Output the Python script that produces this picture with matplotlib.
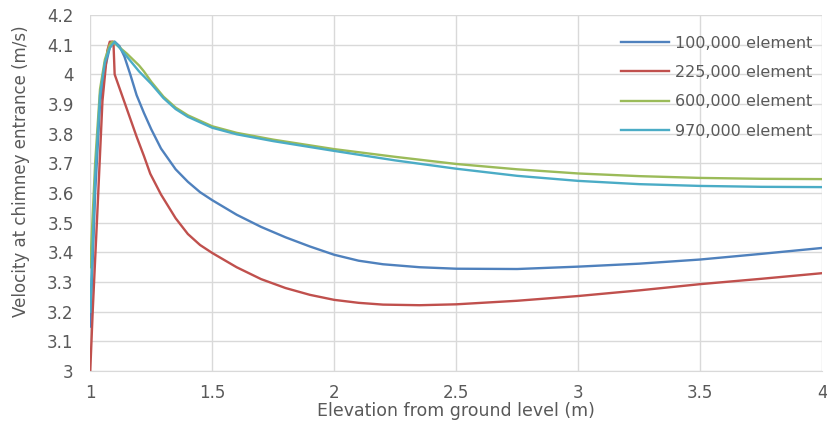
import matplotlib.pyplot as plt

plt.rcParams['font.family'] = ['DejaVu Sans']

# elevation (m) and velocity (m/s) for each mesh size
x_100k = [1.0, 1.02, 1.04, 1.06, 1.08, 1.10, 1.12, 1.14, 1.164, 1.19, 1.22, 1.25, 1.29,
          1.35, 1.4, 1.45, 1.5, 1.6, 1.7, 1.8, 1.9, 2.0, 2.1, 2.2, 2.35, 2.5, 2.75,
          3.0, 3.25, 3.5, 3.75, 4.0]
v_100k = [3.15, 3.6, 3.9, 4.02, 4.09, 4.11, 4.095, 4.06, 4.0, 3.93, 3.87, 3.815, 3.75,
          3.68, 3.638, 3.603, 3.576, 3.527, 3.486, 3.451, 3.42, 3.392, 3.372, 3.36, 3.35,
          3.345, 3.344, 3.352, 3.362, 3.376, 3.395, 3.415]

x_225k = [1.0, 1.01, 1.03, 1.05, 1.07, 1.08, 1.095, 1.10, 1.13, 1.16, 1.19, 1.22, 1.246,
          1.29, 1.35, 1.4, 1.45, 1.5, 1.6, 1.7, 1.8, 1.9, 2.0, 2.1, 2.2, 2.35, 2.5,
          2.75, 3.0, 3.25, 3.5, 3.75, 4.0]
v_225k = [3.0, 3.2, 3.55, 3.91, 4.08, 4.11, 4.11, 4.0, 3.93, 3.86, 3.79, 3.725, 3.665,
          3.595, 3.515, 3.462, 3.425, 3.398, 3.35, 3.31, 3.28, 3.257, 3.24, 3.23, 3.224,
          3.222, 3.225, 3.237, 3.253, 3.272, 3.293, 3.311, 3.33]

x_600k = [1.0, 1.02, 1.04, 1.06, 1.08, 1.09, 1.10, 1.15, 1.2, 1.22, 1.25, 1.3, 1.35,
          1.4, 1.5, 1.6, 1.75, 2.0, 2.25, 2.5, 2.75, 3.0, 3.25, 3.5, 3.75, 4.0]
v_600k = [3.35, 3.7, 3.95, 4.05, 4.1, 4.11, 4.105, 4.07, 4.03, 4.01, 3.975, 3.925, 3.888,
          3.862, 3.825, 3.803, 3.78, 3.748, 3.722, 3.698, 3.68, 3.666, 3.657, 3.651,
          3.648, 3.647]

x_970k = [1.0, 1.02, 1.04, 1.06, 1.08, 1.10, 1.15, 1.2, 1.25, 1.3, 1.35, 1.4, 1.5,
          1.6, 1.75, 2.0, 2.25, 2.5, 2.75, 3.0, 3.25, 3.5, 3.75, 4.0]
v_970k = [3.2, 3.65, 3.93, 4.04, 4.09, 4.11, 4.06, 4.01, 3.968, 3.92, 3.883, 3.857, 3.82,
          3.798, 3.775, 3.742, 3.71, 3.682, 3.658, 3.641, 3.63, 3.624, 3.621, 3.62]

labels = ['100,000 element', '225,000 element', '600,000 element', '970,000 element']
colors = ['#4F81BD', '#C0504D', '#9BBB59', '#4BACC6']

fig = plt.figure(figsize=(8.28, 4.29), dpi=100)
ax = fig.add_axes([0.109, 0.135, 0.884, 0.83])

series = [(x_100k, v_100k), (x_225k, v_225k), (x_600k, v_600k), (x_970k, v_970k)]
for (xs, vs), lab, c in zip(series, labels, colors):
    ax.plot(xs, vs, color=c, lw=1.7, label=lab, solid_joinstyle='round')

ax.set_xlim(1, 4)
ax.set_ylim(3, 4.2)
ax.set_xticks([1, 1.5, 2, 2.5, 3, 3.5, 4])
ax.set_xticklabels(['1', '1.5', '2', '2.5', '3', '3.5', '4'])
ax.set_yticks([3 + i * 0.1 for i in range(13)])
ax.set_yticklabels(['3', '3.1', '3.2', '3.3', '3.4', '3.5', '3.6', '3.7', '3.8',
                    '3.9', '4', '4.1', '4.2'])
ax.grid(True, color='#D9D9D9', lw=1)
ax.set_axisbelow(True)
for s in ['top', 'right', 'left']:
    ax.spines[s].set_visible(False)
ax.spines['bottom'].set_color('#D9D9D9')
ax.tick_params(length=0, labelsize=12, colors='#595959')
ax.tick_params(axis='y', pad=12)
ax.tick_params(axis='x', pad=9)

ax.set_xlabel('Elevation from ground level (m)', fontsize=12.5, color='#595959')
ax.set_ylabel('Velocity at chimney entrance (m/s)', fontsize=12, color='#595959')
ax.xaxis.set_label_coords(0.5, -0.088)
ax.yaxis.set_label_coords(-0.082, 0.56)

leg = ax.legend(loc='upper right', frameon=False, fontsize=11.5, labelspacing=0.9,
                handlelength=3.0, handletextpad=0.35, borderaxespad=0.0,
                bbox_to_anchor=(0.995, 0.96))
for t in leg.get_texts():
    t.set_color('#595959')

fig.savefig('out.png', dpi=100)
